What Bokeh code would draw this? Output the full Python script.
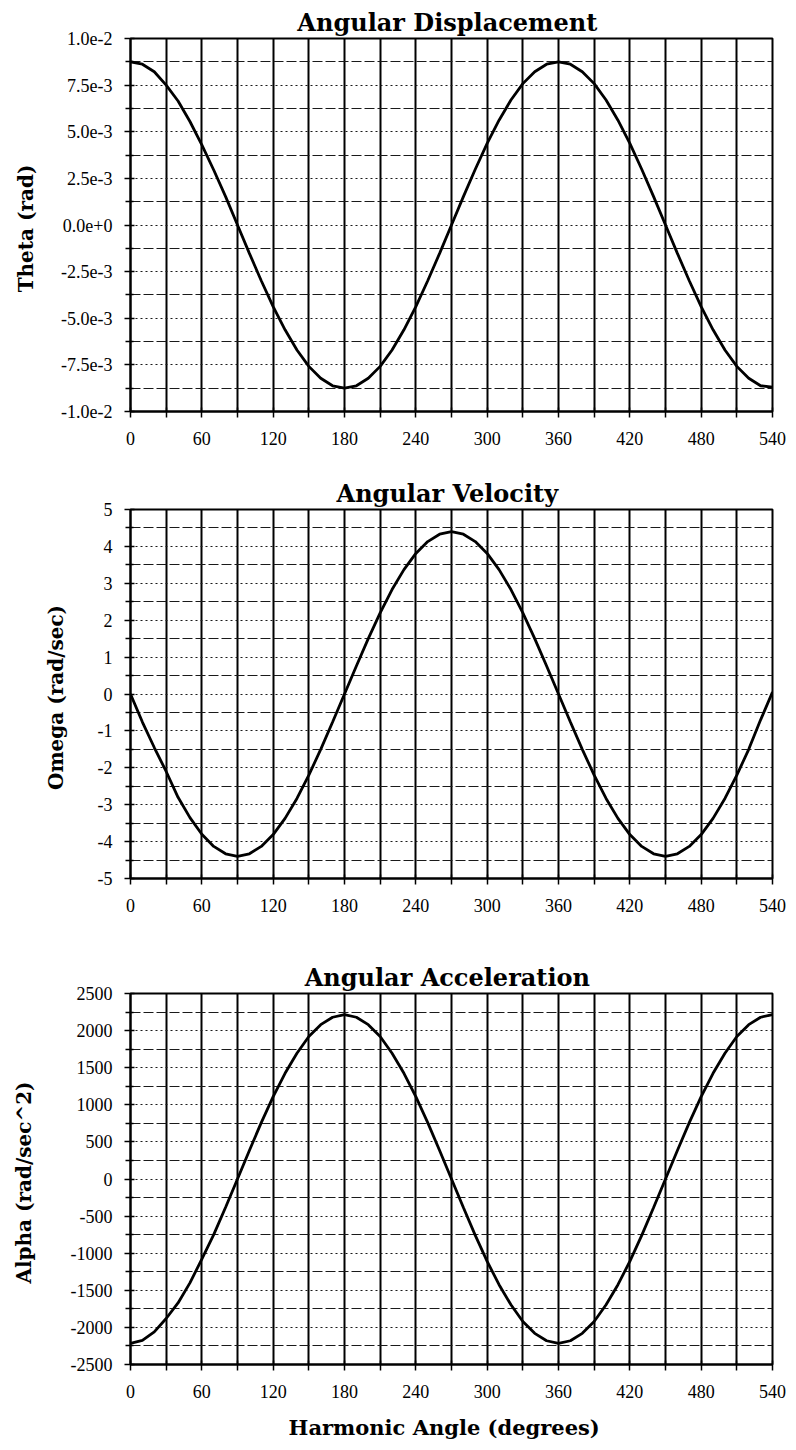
from bokeh.plotting import figure
from bokeh.layouts import column
from bokeh.models import FixedTicker, Range1d
from bokeh.embed import file_html
from bokeh.resources import INLINE

# ---------------- data ----------------
angle_deg = [0, 10, 20, 30, 40, 50, 60, 70, 80, 90, 100, 110, 120, 130, 140, 150, 160, 170,
             180, 190, 200, 210, 220, 230, 240, 250, 260, 270, 280, 290, 300, 310, 320, 330,
             340, 350, 360, 370, 380, 390, 400, 410, 420, 430, 440, 450, 460, 470, 480, 490,
             500, 510, 520, 530, 540]

theta_rad = [8.75e-3, 8.62e-3, 8.22e-3, 7.50e-3, 6.65e-3, 5.55e-3, 4.30e-3, 2.95e-3, 1.52e-3,
             0.00e-3, -1.52e-3, -2.99e-3, -4.38e-3, -5.62e-3, -6.70e-3, -7.58e-3, -8.22e-3,
             -8.62e-3, -8.75e-3, -8.62e-3, -8.22e-3, -7.58e-3, -6.70e-3, -5.62e-3, -4.38e-3,
             -2.99e-3, -1.52e-3, 0.00e-3, 1.52e-3, 2.99e-3, 4.38e-3, 5.62e-3, 6.70e-3, 7.58e-3,
             8.22e-3, 8.62e-3, 8.75e-3, 8.62e-3, 8.22e-3, 7.58e-3, 6.70e-3, 5.62e-3, 4.38e-3,
             2.99e-3, 1.52e-3, 0.00e-3, -1.52e-3, -2.99e-3, -4.38e-3, -5.62e-3, -6.70e-3,
             -7.58e-3, -8.22e-3, -8.62e-3, -8.70e-3]

omega_rad_s = [0.00, -0.76, -1.45, -2.10, -2.80, -3.35, -3.80, -4.13, -4.33, -4.40, -4.33,
               -4.13, -3.81, -3.37, -2.83, -2.20, -1.50, -0.76, 0.00, 0.76, 1.50, 2.20, 2.83,
               3.37, 3.81, 4.13, 4.33, 4.40, 4.33, 4.13, 3.81, 3.37, 2.83, 2.20, 1.50, 0.76,
               0.00, -0.76, -1.50, -2.20, -2.83, -3.37, -3.81, -4.13, -4.33, -4.40, -4.33,
               -4.13, -3.81, -3.37, -2.83, -2.20, -1.50, -0.70, 0.05]

alpha_rad_s2 = [-2215, -2175, -2060, -1880, -1670, -1400, -1080, -750, -380, 0, 385, 760,
                1110, 1425, 1695, 1920, 2080, 2180, 2215, 2180, 2080, 1920, 1695, 1425, 1110,
                760, 385, 0, -385, -760, -1110, -1425, -1695, -1920, -2080, -2180, -2215,
                -2180, -2080, -1920, -1695, -1425, -1110, -760, -385, 0, 385, 760, 1110, 1425,
                1695, 1920, 2080, 2180, 2215]

x_ticks = [0, 60, 120, 180, 240, 300, 360, 420, 480, 540]
x_minor = [30, 90, 150, 210, 270, 330, 390, 450, 510]

theta_ticks = [-1.0e-2, -7.5e-3, -5.0e-3, -2.5e-3, 0.0, 2.5e-3, 5.0e-3, 7.5e-3, 1.0e-2]
theta_minor = [-8.75e-3, -6.25e-3, -3.75e-3, -1.25e-3, 1.25e-3, 3.75e-3, 6.25e-3, 8.75e-3]
theta_labels = ["-1.0e-2", "-7.5e-3", "-5.0e-3", "-2.5e-3", "0.0e+0", "2.5e-3", "5.0e-3",
                "7.5e-3", "1.0e-2"]

omega_ticks = [-5, -4, -3, -2, -1, 0, 1, 2, 3, 4, 5]
omega_minor = [-4.5, -3.5, -2.5, -1.5, -0.5, 0.5, 1.5, 2.5, 3.5, 4.5]
omega_labels = ["-5", "-4", "-3", "-2", "-1", "0", "1", "2", "3", "4", "5"]

alpha_ticks = [-2500, -2000, -1500, -1000, -500, 0, 500, 1000, 1500, 2000, 2500]
alpha_minor = [-2250, -1750, -1250, -750, -250, 250, 750, 1250, 1750, 2250]
alpha_labels = ["-2500", "-2000", "-1500", "-1000", "-500", "0", "500", "1000", "1500",
                "2000", "2500"]

TICK_FONT = "Liberation Serif"
LABEL_FONT = "DejaVu Serif"


def make_panel(title, ylabel, yvals, yticks, yminor, ylabels, ylim, height, border,
               label_standoff, xlabel=None):
    left, right, top, bottom = border
    p = figure(width=788, height=height, output_backend="svg", toolbar_location=None,
               x_range=Range1d(0, 540), y_range=Range1d(ylim[0], ylim[1]),
               min_border_left=left, min_border_right=right,
               min_border_top=top, min_border_bottom=bottom)
    p.background_fill_color = "white"
    p.border_fill_color = "white"
    p.outline_line_color = "black"
    p.outline_line_width = 2

    p.title.text = title
    p.title.align = "center"
    p.title.text_font = LABEL_FONT
    p.title.text_font_style = "bold"
    p.title.text_font_size = "24px"
    p.title.text_color = "black"
    p.title.standoff = 4

    p.xaxis.ticker = FixedTicker(ticks=x_ticks, minor_ticks=x_minor)
    p.yaxis.ticker = FixedTicker(ticks=yticks, minor_ticks=yminor)
    p.yaxis.major_label_overrides = {t: s for t, s in zip(yticks, ylabels)}

    for ax in (p.xaxis[0], p.yaxis[0]):
        ax.axis_line_color = "black"
        ax.axis_line_width = 2
        ax.major_tick_line_color = "black"
        ax.major_tick_line_width = 1.5
        ax.minor_tick_line_color = "black"
        ax.minor_tick_line_width = 1.5
        ax.major_tick_in = 4
        ax.major_tick_out = 6
        ax.major_label_text_font = TICK_FONT
        ax.major_label_text_font_size = "18px"
        ax.major_label_text_color = "black"
        ax.axis_label_text_font = LABEL_FONT
        ax.axis_label_text_font_style = "bold"
        ax.axis_label_text_font_size = "20px"
        ax.axis_label_text_color = "black"

    p.xaxis.minor_tick_in = 4
    p.xaxis.minor_tick_out = 6
    p.xaxis.major_label_standoff = 14
    p.yaxis.minor_tick_in = 3
    p.yaxis.minor_tick_out = 5
    p.yaxis.major_label_standoff = 12

    p.yaxis.axis_label = ylabel
    p.yaxis.axis_label_standoff = label_standoff
    if xlabel:
        p.xaxis.axis_label = xlabel
        p.xaxis.axis_label_text_font_size = "21px"
        p.xaxis.axis_label_standoff = 14

    p.xgrid.grid_line_color = "black"
    p.xgrid.grid_line_width = 2
    p.xgrid.minor_grid_line_color = "black"
    p.xgrid.minor_grid_line_width = 2

    p.ygrid.grid_line_color = "#1a1a1a"
    p.ygrid.grid_line_width = 1
    p.ygrid.grid_line_dash = "2 3"
    p.ygrid.minor_grid_line_color = "#1a1a1a"
    p.ygrid.minor_grid_line_width = 1.2
    p.ygrid.minor_grid_line_dash = "10 3"

    p.line(angle_deg, yvals, line_color="black", line_width=2.8)
    return p


p1 = make_panel("Angular  Displacement", "Theta  (rad)", theta_rad, theta_ticks, theta_minor,
                theta_labels, (-1.0e-2, 1.0e-2), 462, (130, 13, 38, 51), 20)
p2 = make_panel("Angular  Velocity", "Omega  (rad/sec)", omega_rad_s, omega_ticks, omega_minor,
                omega_labels, (-5, 5), 483, (128, 13, 47, 67), 27)
p3 = make_panel("Angular  Acceleration", "Alpha  (rad/sec^2)", alpha_rad_s2, alpha_ticks,
                alpha_minor, alpha_labels, (-2500, 2500), 497, (126, 16, 48, 76), 32,
                xlabel="Harmonic  Angle  (degrees)")

layout = column(p1, p2, p3)
open("out.html", "w").write(file_html(layout, INLINE))
